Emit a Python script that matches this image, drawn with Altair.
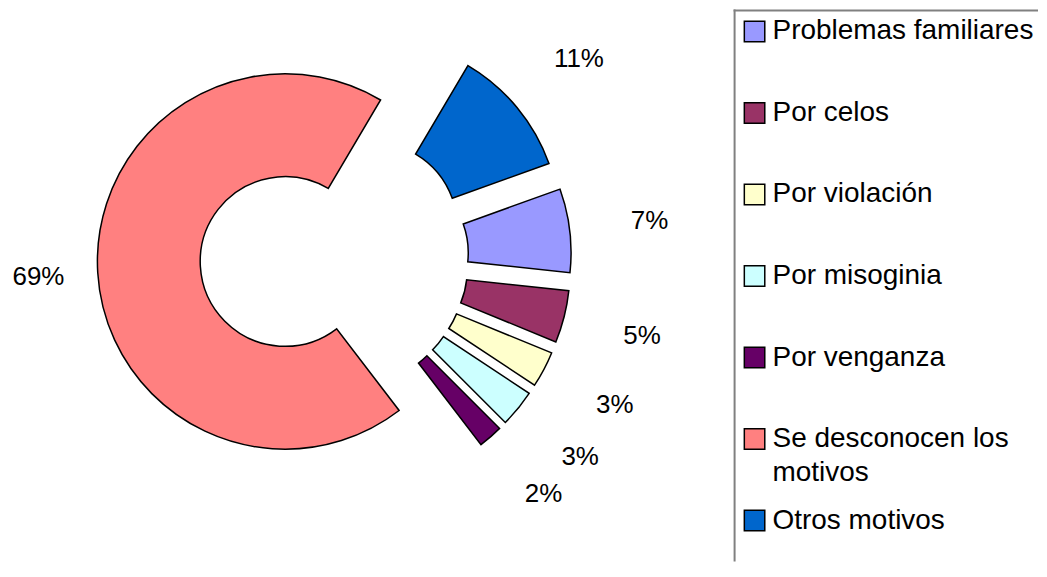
import math
import altair as alt
import pandas as pd

categories = ["Problemas familiares", "Por celos", "Por violación", "Por misoginia",
              "Por venganza", "Se desconocen los motivos", "Otros motivos"]
legend_labels = ["Problemas familiares", "Por celos", "Por violación", "Por misoginia",
                 "Por venganza", "Se desconocen los\nmotivos", "Otros motivos"]
values = [7.2, 4.5, 3.1, 3.2, 2.1, 68.9, 11.0]
pct_labels = ["7%", "5%", "3%", "3%", "2%", "69%", "11%"]
colors = ["#9999FF", "#993366", "#FFFFCC", "#CCFFFF", "#660066", "#FF8080", "#0066CC"]

df = pd.DataFrame({
    "cat": categories,
    "legend": legend_labels,
    "value": values,
    "pct": pct_labels,
    "idx": list(range(len(categories))),
})

START = 70.2 * math.pi / 180.0   # first slice angle (clockwise from 12 o'clock)
TOTAL = 100
FONT = "Liberation Sans"
W, H = 720, 553

color_scale = alt.Scale(domain=categories, range=colors)
theta_scale = alt.Scale(domain=[0, TOTAL], range=[START, START + 2 * math.pi])

# donut centre inside the left panel and explosion distance
CX, CY, EXPL = 327, 249.5, 49.5
x_scale = alt.Scale(domain=[-1, 1], range=[CX - EXPL, CX + EXPL])
y_scale = alt.Scale(domain=[-1, 1], range=[CY - EXPL, CY + EXPL])
# label ring
lx_scale = alt.Scale(domain=[-1, 0, 1], range=[CX - 297, CX, CX + 318])
ly_scale = alt.Scale(domain=[-1, 1], range=[CY - 314, CY + 314])

base = (
    alt.Chart(df)
    .transform_window(end="sum(value)", sort=[alt.SortField("idx")], frame=[None, 0])
    .transform_calculate(start="datum.end - datum.value")
    .transform_calculate(mid="datum.end - datum.value / 2")
    .transform_calculate(ang=f"{START} + 2 * PI * datum.mid / {TOTAL}")
    .transform_calculate(ex="sin(datum.ang)")
    .transform_calculate(ey="-cos(datum.ang)")
)

arcs = base.mark_arc(innerRadius=85, outerRadius=188, stroke="black", strokeWidth=1.5).encode(
    theta=alt.Theta("start:Q", scale=theta_scale, stack=None),
    theta2="end:Q",
    x=alt.X("ex:Q", scale=x_scale, axis=None),
    y=alt.Y("ey:Q", scale=y_scale, axis=None),
    color=alt.Color("cat:N", scale=color_scale, legend=None),
)

labels = base.mark_text(fontSize=26, font=FONT, color="black").encode(
    x=alt.X("ex:Q", scale=lx_scale, axis=None),
    y=alt.Y("ey:Q", scale=ly_scale, axis=None),
    text="pct:N",
)

donut = (
    alt.layer(arcs, labels)
    .resolve_scale(x="independent", y="independent")
    .properties(width=W, height=H)
)

# ---- legend panel ----
LW = 305
row_scale = alt.Scale(type="point", domain=categories, range=[22, 512], padding=0)
leg = alt.Chart(df)

squares = leg.mark_square(size=420, stroke="black", strokeWidth=1.5, opacity=1).encode(
    x=alt.value(21),
    y=alt.Y("cat:N", scale=row_scale, axis=None),
    color=alt.Color("cat:N", scale=color_scale, legend=None),
)

leg_text = leg.mark_text(
    align="left", baseline="line-top", dy=-17, lineHeight=34,
    lineBreak="\n", fontSize=28, font=FONT, color="black",
).encode(
    x=alt.value(39),
    y=alt.Y("cat:N", scale=row_scale, axis=None),
    text="legend:N",
)

frame_df = pd.DataFrame({"k": [0]})
border_left = alt.Chart(frame_df).mark_rule(color="#808080", strokeWidth=2).encode(
    x=alt.value(1), y=alt.value(0), y2=alt.value(H)
)
border_top = alt.Chart(frame_df).mark_rule(color="#808080", strokeWidth=2).encode(
    x=alt.value(0), x2=alt.value(LW), y=alt.value(1)
)

legend_panel = alt.layer(border_left, border_top, squares, leg_text).properties(width=LW, height=H)

chart = (
    alt.hconcat(donut, legend_panel, spacing=6)
    .properties(padding=0)
    .configure_view(stroke=None)
)

chart.save("out.html", embed_options={"renderer": "svg", "actions": False})
